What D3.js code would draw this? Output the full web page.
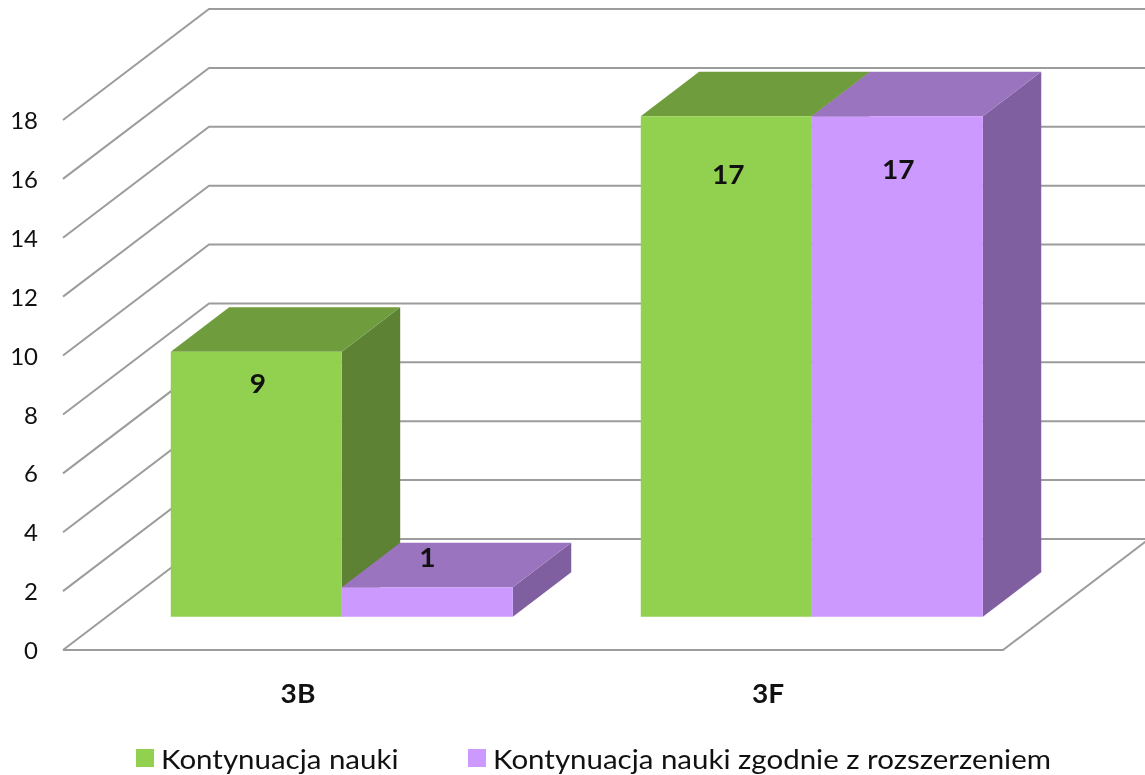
<!DOCTYPE html>
<html>
<head>
<meta charset="utf-8">
<script src="https://cdn.jsdelivr.net/npm/d3@7/dist/d3.min.js"></script>
<style>
html,body{margin:0;padding:0;background:#fff;overflow:hidden}
svg{display:block;filter:blur(0.45px)}
text{font-family:Lato,"Open Sans",sans-serif;fill:#111}
</style>
</head>
<body>
<svg id="chart" width="1145" height="775"></svg>
<script>
const categories = ["3B", "3F"];
const seriesNames = ["Kontynuacja nauki", "Kontynuacja nauki zgodnie z rozszerzeniem"];
const series1 = [9, 17];
const series2 = [1, 17];
const yTicks = [0, 2, 4, 6, 8, 10, 12, 14, 16, 18];
const greenShades = ["#92D050", "#6F9D3D", "#5E8233"];
const purpleShades = ["#CC99FF", "#9B74BF", "#7F5F9F"];

const svg = d3.select("#chart");
// front plane
const left = 63, right = 1003, base = 650, top18 = 120;
const y = d3.scaleLinear().domain([0, 18]).range([base, top18]);
const x = d3.scaleBand().domain(categories).range([left, right]);
// depth projection: 0 = front of floor, 1 = back wall
const depth = d3.scaleLinear().domain([0, 1]).range([0, 146]);
const depthY = d3.scaleLinear().domain([0, 1]).range([0, -111]);
const proj = (px, value, d) => [px + depth(d), y(value) + depthY(d)];
const line = d3.line();
const gridColor = "#9c9c9c";

const grid = svg.append("g").attr("fill", "none").attr("stroke", gridColor).attr("stroke-width", 2);
yTicks.forEach(t => {
  grid.append("path").attr("d", line([proj(left, t, 0), proj(left, t, 1), proj(right, t, 1)]));
});
grid.append("path").attr("d", line([proj(left, 0, 0), proj(right, 0, 0), proj(right, 0, 1)]));

// bars
const nearD = 0.30, farD = 0.70;
const inner = d3.scaleBand().domain([0, 1]).range([0, x.bandwidth()]).paddingOuter(0.374).paddingInner(0);
const barsG = svg.append("g");
function bar(cat, idx, value, shades) {
  const x0 = x(cat) + inner(idx), x1 = x0 + inner.bandwidth();
  const a = proj(x0, value, nearD), b = proj(x1, value, nearD);
  const c = proj(x1, value, farD), e = proj(x0, value, farD);
  const f = proj(x1, 0, nearD), g = proj(x1, 0, farD), h = proj(x0, 0, nearD);
  barsG.append("path").attr("d", line([b, c, g, f]) + "Z").attr("fill", shades[2]);
  barsG.append("path").attr("d", line([a, b, c, e]) + "Z").attr("fill", shades[1]);
  barsG.append("path").attr("d", line([a, b, f, h]) + "Z").attr("fill", shades[0]);
}
categories.forEach((c, i) => {
  bar(c, 0, series1[i], greenShades);
  bar(c, 1, series2[i], purpleShades);
});

// value labels
const labelNudges = [[[1.5, 31], [0, -30]], [[2, 58], [1, 53]]];
const lab = svg.append("g").attr("text-anchor", "middle").attr("font-size", 26).attr("font-weight", 700);
categories.forEach((c, i) => {
  [series1[i], series2[i]].forEach((v, s) => {
    const px = x(c) + inner(s) + inner.bandwidth() / 2;
    const p = proj(px, v, nearD);
    lab.append("text")
      .attr("transform", `translate(${p[0] + labelNudges[i][s][0]},${p[1] + labelNudges[i][s][1]}) scale(1.08,1)`)
      .attr("dominant-baseline", "central").text(v);
  });
});

// y axis
const axis = svg.append("g").attr("transform", "translate(38,0)")
  .call(d3.axisLeft(y).tickValues(yTicks).tickSize(0).tickPadding(0));
axis.select(".domain").remove();
axis.selectAll("text").attr("font-size", 24).style("font-family", "Lato,sans-serif").attr("dy", "0.36em").attr("fill", "#111");

// x axis
const xAxis = svg.append("g").attr("transform", "translate(0,694)")
  .call(d3.axisBottom(x).tickSize(0).tickPadding(0));
xAxis.select(".domain").remove();
xAxis.selectAll("text").attr("font-size", 26).attr("font-weight", 700).style("font-family", "Lato,sans-serif")
  .attr("dy", "0.36em").attr("y", 0).attr("fill", "#111")
  .attr("transform", "scale(1.08,1)");

// legend
const legendX = [136, 468];
const legendFills = [greenShades[0], purpleShades[0]];
const leg = svg.append("g");
seriesNames.forEach((n, i) => {
  leg.append("rect").attr("x", legendX[i]).attr("y", 749).attr("width", 18).attr("height", 18).attr("fill", legendFills[i]);
  leg.append("text").attr("transform", `translate(${legendX[i] + 25},758) scale(1.092,1)`)
    .attr("dominant-baseline", "central").attr("font-size", 27).text(n);
});
</script>
</body>
</html>
